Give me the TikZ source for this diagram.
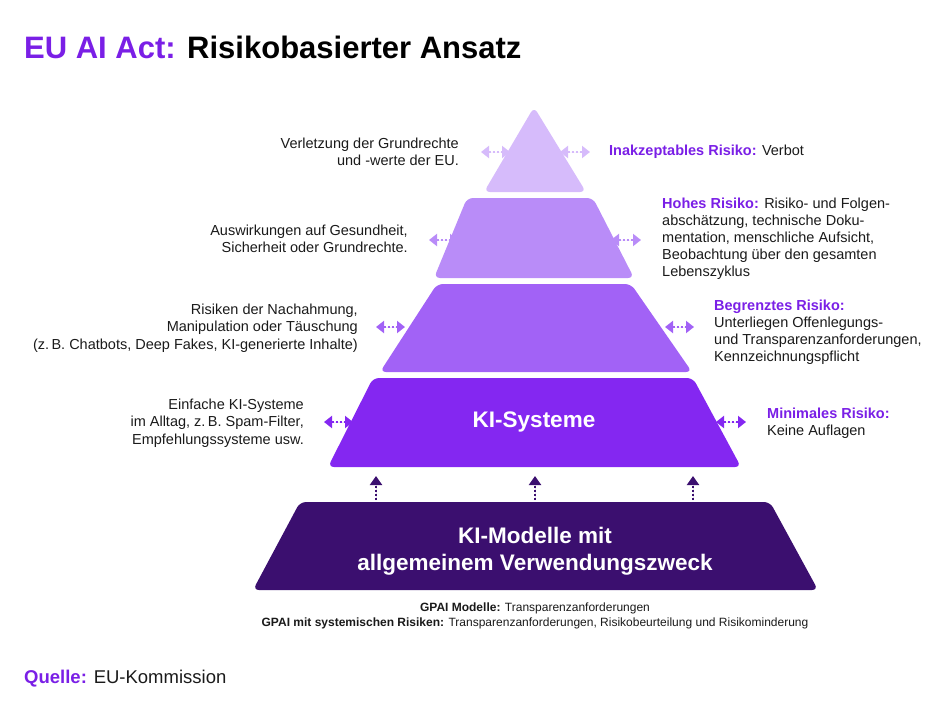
\documentclass[tikz,border=0pt]{standalone}
\usepackage{fontspec}
\setmainfont{Liberation Sans}
\usetikzlibrary{arrows.meta}
\definecolor{euviolet}{HTML}{7A1FE6}
\definecolor{tierA}{HTML}{D6BBFB}
\definecolor{tierB}{HTML}{B98CF8}
\definecolor{tierC}{HTML}{A262F6}
\definecolor{tierD}{HTML}{8427F1}
\definecolor{tierE}{HTML}{3B0F6F}
\definecolor{txt}{HTML}{1A1A1A}
\tikzset{
  tier/.style={rounded corners=6pt},
  sidearrow/.style={{Triangle[width=12pt,length=8pt]}-{Triangle[width=12pt,length=8pt]}, dotted, line width=2pt},
  uparrow/.style={-{Triangle[width=12pt,length=9pt]}, dotted, line width=2pt, draw=tierE},
  lefttxt/.style={anchor=east, align=right, font=\fontsize{14.5}{17.5}\selectfont, text=txt, inner sep=0pt},
  righttxt/.style={anchor=west, align=left, font=\fontsize{14.5}{17}\selectfont, text=txt, inner sep=0pt}
}
\begin{document}
\begin{tikzpicture}[x=1pt,y=-1pt]
\useasboundingbox (0,0) rectangle (950,720);
% title
\node[anchor=west, inner sep=0pt, font=\bfseries\fontsize{31}{34}\selectfont] (title) at (24,47) {\textcolor{euviolet}{EU AI Act:} Risikobasierter Ansatz};

% pyramid tiers
\fill[tierA, tier] (534,107) -- (586,192) -- (484,192) -- cycle;
\fill[tierB, tier] (467,198) -- (593,198) -- (634,278) -- (434,278) -- cycle;
\fill[tierC, tier] (437,284) -- (631,284) -- (692,372) -- (380,372) -- cycle;
\fill[tierD, tier] (373,378) -- (693,378) -- (741,467) -- (328,467) -- cycle;
\fill[tierE, tier] (300,502) -- (770,502) -- (818,590) -- (253,590) -- cycle;

\node[text=white, font=\bfseries\fontsize{22.5}{26}\selectfont] (ki) at (534,422) {KI-Systeme};
\node[text=white, font=\bfseries\fontsize{22.5}{27}\selectfont, align=center] (gpai) at (535,551) {KI-Modelle mit\\allgemeinem Verwendungszweck};

% side arrows
\draw[sidearrow, draw=tierA, fill=tierA] (481,152) -- (510,152);
\draw[sidearrow, draw=tierA, fill=tierA] (560,152) -- (590,152);
\draw[sidearrow, draw=tierB, fill=tierB] (429,240) -- (458,240);
\draw[sidearrow, draw=tierB, fill=tierB] (611,240) -- (641,240);
\draw[sidearrow, draw=tierC, fill=tierC] (376,327) -- (405,327);
\draw[sidearrow, draw=tierC, fill=tierC] (665,327) -- (694,327);
\draw[sidearrow, draw=tierD, fill=tierD] (324,422) -- (353,422);
\draw[sidearrow, draw=tierD, fill=tierD] (716,422) -- (746,422);

% arrows from base
\foreach \xx in {376,535,693}
  \draw[uparrow, fill=tierE] (\xx,500) -- (\xx,476);

% left labels
\node[lefttxt] (l1) at (459,152) {Verletzung der Grundrechte\\und -werte der EU.};
\node[lefttxt] (l2) at (408,239) {Auswirkungen auf Gesundheit,\\Sicherheit oder Grundrechte.};
\node[lefttxt] (l3) at (358,328) {Risiken der Nachahmung,\\Manipulation oder Täuschung\\(z.\,B. Chatbots, Deep Fakes, KI-generierte Inhalte)};
\node[lefttxt] (l4) at (304,423) {Einfache KI-Systeme\\im Alltag, z.\,B. Spam-Filter,\\Empfehlungssysteme usw.};

% right labels
\node[righttxt] (r1) at (609,152) {\textcolor{euviolet}{\bfseries Inakzeptables Risiko:} Verbot};
\node[righttxt] (r2) at (662,239) {\textcolor{euviolet}{\bfseries Hohes Risiko:} Risiko- und Folgen-\\abschätzung, technische Doku-\\mentation, menschliche Aufsicht,\\Beobachtung über den gesamten\\Lebenszyklus};
\node[righttxt] (r3) at (714,332) {\textcolor{euviolet}{\bfseries Begrenztes Risiko:}\\Unterliegen Offenlegungs-\\und Transparenzanforderungen,\\Kennzeichnungspflicht};
\node[righttxt] (r4) at (767,423) {\textcolor{euviolet}{\bfseries Minimales Risiko:}\\Keine Auflagen};

% notes below
\node[align=center, text=txt, font=\fontsize{12}{15}\selectfont] (note) at (535,616) {\textbf{GPAI Modelle:} Transparenzanforderungen\\\textbf{GPAI mit systemischen Risiken:} Transparenzanforderungen, Risikobeurteilung und Risikominderung};

% source
\node[anchor=west, inner sep=0pt, text=txt, font=\fontsize{18.5}{21}\selectfont] (src) at (24,679) {\textcolor{euviolet}{\bfseries Quelle:} EU-Kommission};
\end{tikzpicture}
\end{document}
